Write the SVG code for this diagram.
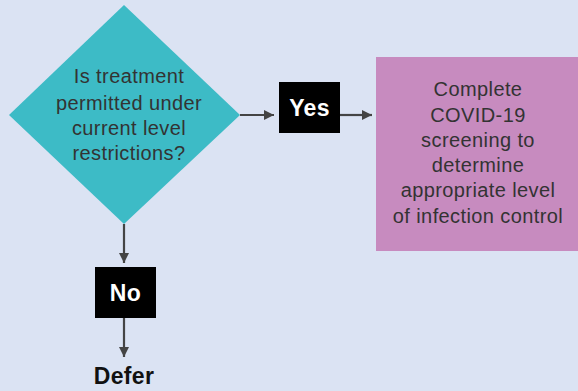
<svg xmlns="http://www.w3.org/2000/svg" width="578" height="391" viewBox="0 0 578 391">
<defs>
<style>
.t{font-family:"Liberation Sans",Arial,sans-serif;font-size:20px;letter-spacing:0.4px;fill:#333;text-anchor:middle}
.b{font-family:"Liberation Sans",Arial,sans-serif;font-size:23px;font-weight:bold;letter-spacing:0.3px;fill:#fff;text-anchor:middle}
.c{stroke:#444;stroke-width:2.2;fill:none}
</style>
<marker id="ah" viewBox="0 0 10 10" refX="10" refY="5" markerWidth="10" markerHeight="10" markerUnits="userSpaceOnUse" orient="auto">
<path d="M0,0 L10,5 L0,10 Z" fill="#444"/>
</marker>
</defs>
<rect width="578" height="391" fill="#dbe3f3"/>
<g id="connectors">
<line class="c" x1="240" y1="115" x2="274" y2="115" marker-end="url(#ah)"/>
<line class="c" x1="340" y1="115" x2="372" y2="115" marker-end="url(#ah)"/>
<line class="c" x1="124" y1="224" x2="124" y2="263" marker-end="url(#ah)"/>
<line class="c" x1="124" y1="318" x2="124" y2="357" marker-end="url(#ah)"/>
</g>
<g id="decision">
<polygon points="124,5 240,115 124,224 9,115" fill="#3dbbc6"/>
<text class="t" x="129" y="83">Is treatment</text>
<text class="t" x="129" y="110">permitted under</text>
<text class="t" x="129" y="135">current level</text>
<text class="t" x="129" y="160">restrictions?</text>
</g>
<g id="yes">
<rect x="279" y="82" width="61" height="51" fill="#000"/>
<text class="b" x="309.5" y="116">Yes</text>
</g>
<g id="screening">
<rect x="376" y="57" width="202" height="194" fill="#c78bbf"/>
<text class="t" x="478" y="96">Complete</text>
<text class="t" x="478" y="122">COVID-19</text>
<text class="t" x="478" y="147">screening to</text>
<text class="t" x="478" y="172">determine</text>
<text class="t" x="478" y="197">appropriate level</text>
<text class="t" x="478" y="223">of infection control</text>
</g>
<g id="no">
<rect x="95" y="267" width="61" height="51" fill="#000"/>
<text class="b" x="125.5" y="301">No</text>
</g>
<g id="defer">
<text class="b" x="124" y="384" style="fill:#111">Defer</text>
</g>
</svg>
